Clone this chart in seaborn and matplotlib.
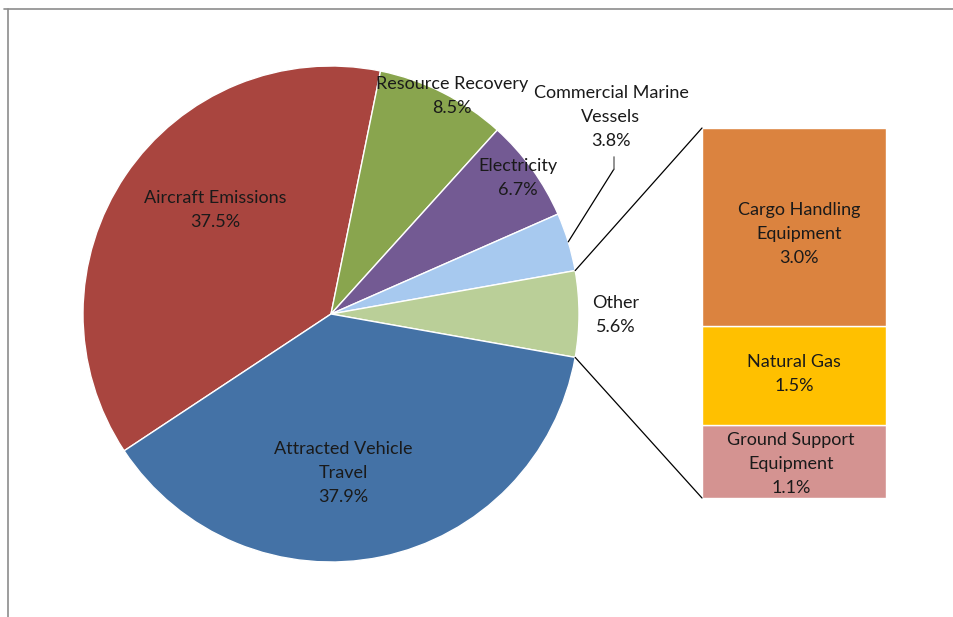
import matplotlib.pyplot as plt
import seaborn as sns
import numpy as np
from matplotlib.patches import ConnectionPatch
from matplotlib.lines import Line2D

# pie data (clockwise from the lower-left boundary, Excel order)
pie_labels = ['Aircraft Emissions', 'Resource Recovery', 'Electricity',
              'Commercial Marine\nVessels', 'Other', 'Attracted Vehicle\nTravel']
pie_values = [37.5, 8.5, 6.7, 3.8, 5.6, 37.9]
pie_colors = ['#A9453F', '#89A54E', '#735A93', '#A7C9EF', '#BACF98', '#4472A6']

# breakdown of "Other" (bottom to top)
bar_labels = ['Ground Support\nEquipment', 'Natural Gas', 'Cargo Handling\nEquipment']
bar_values = [1.1, 1.5, 3.0]
bar_colors = ['#D49391', '#FFC000', '#DB833F']

sns.set_theme(style='white')
plt.rcParams['font.family'] = ['Lato', 'DejaVu Sans']

W, H = 954, 617
fig = plt.figure(figsize=(W / 100, H / 100), dpi=100)
fig.patch.set_facecolor('white')


def px(x, y):
    # pixel position (top-left origin) -> figure fraction
    return x / W, 1 - y / H


# outer frame (only top and left edges visible)
fig.add_artist(Line2D([4 / W, 1], [1 - 9 / H] * 2, color='#8c8c8c', lw=1.2))
fig.add_artist(Line2D([8 / W] * 2, [0, 1 - 9 / H], color='#8c8c8c', lw=1.2))

# pie axes: square pixel box around the pie
cx, cy, r = 331, 314, 248
l, b = px(cx - r, cy + r)
ax_pie = fig.add_axes([l, b, 2 * r / W, 2 * r / H])
other_share = pie_values[4] / 2
start = 360 * (sum(pie_values[:4]) + other_share) / 100
wedges, _ = ax_pie.pie(pie_values, colors=pie_colors, startangle=start,
                       counterclock=False, radius=1,
                       wedgeprops=dict(edgecolor='white', linewidth=1))
ax_pie.set_xlim(-1, 1)
ax_pie.set_ylim(-1, 1)
ax_pie.axis('off')

# stacked bar axes
bl, bb = px(702, 498)
ax_bar = fig.add_axes([bl, bb, (886 - 702) / W, (498 - 128) / H])
bottom = 0
for lab, val, col in zip(bar_labels, bar_values, bar_colors):
    ax_bar.bar(0, val, width=1, bottom=bottom, color=col, edgecolor='white', linewidth=1)
    bottom += val
ax_bar.set_xlim(-0.5, 0.5)
ax_bar.set_ylim(0, sum(bar_values))
ax_bar.axis('off')

# connector lines between "Other" wedge and the bar
other = wedges[4]
for ang, ybar in [(other.theta2, sum(bar_values)), (other.theta1, 0)]:
    x0, y0 = np.cos(np.radians(ang)), np.sin(np.radians(ang))
    con = ConnectionPatch(xyA=(-0.5, ybar), coordsA=ax_bar.transData,
                          xyB=(x0, y0), coordsB=ax_pie.transData,
                          color='black', linewidth=0.9)
    fig.add_artist(con)

# leader line for Commercial Marine Vessels
marine = wedges[3]
mid = np.radians((marine.theta1 + marine.theta2) / 2)
fig.add_artist(Line2D([614 / W] * 2, [1 - 157 / H, 1 - 169 / H], color='#7f7f7f', lw=1.2))
con = ConnectionPatch(xyA=px(614, 169), coordsA=fig.transFigure,
                      xyB=(np.cos(mid), np.sin(mid)), coordsB=ax_pie.transData,
                      color='black', linewidth=0.9)
fig.add_artist(con)

# labels
fs = 13
ls = 1.65
pie_label_pos = [(215, 210), (452, 96), (518, 178), (611, 117), (616, 315), (343, 473)]
for (x, y), lab, val in zip(pie_label_pos, pie_labels, pie_values):
    fig.text(*px(x, y), f'{lab}\n{val:.1f}%', ha='center', va='center',
             fontsize=fs, linespacing=ls, color='#1a1a1a')

bar_label_pos = [(799, 234), (794, 374), (791, 464)][::-1]
for (x, y), lab, val in zip(bar_label_pos, bar_labels, bar_values):
    fig.text(*px(x, y), f'{lab}\n{val:.1f}%', ha='center', va='center',
             fontsize=fs, linespacing=ls, color='#1a1a1a')

fig.savefig('out.png', dpi=100, facecolor='white')
